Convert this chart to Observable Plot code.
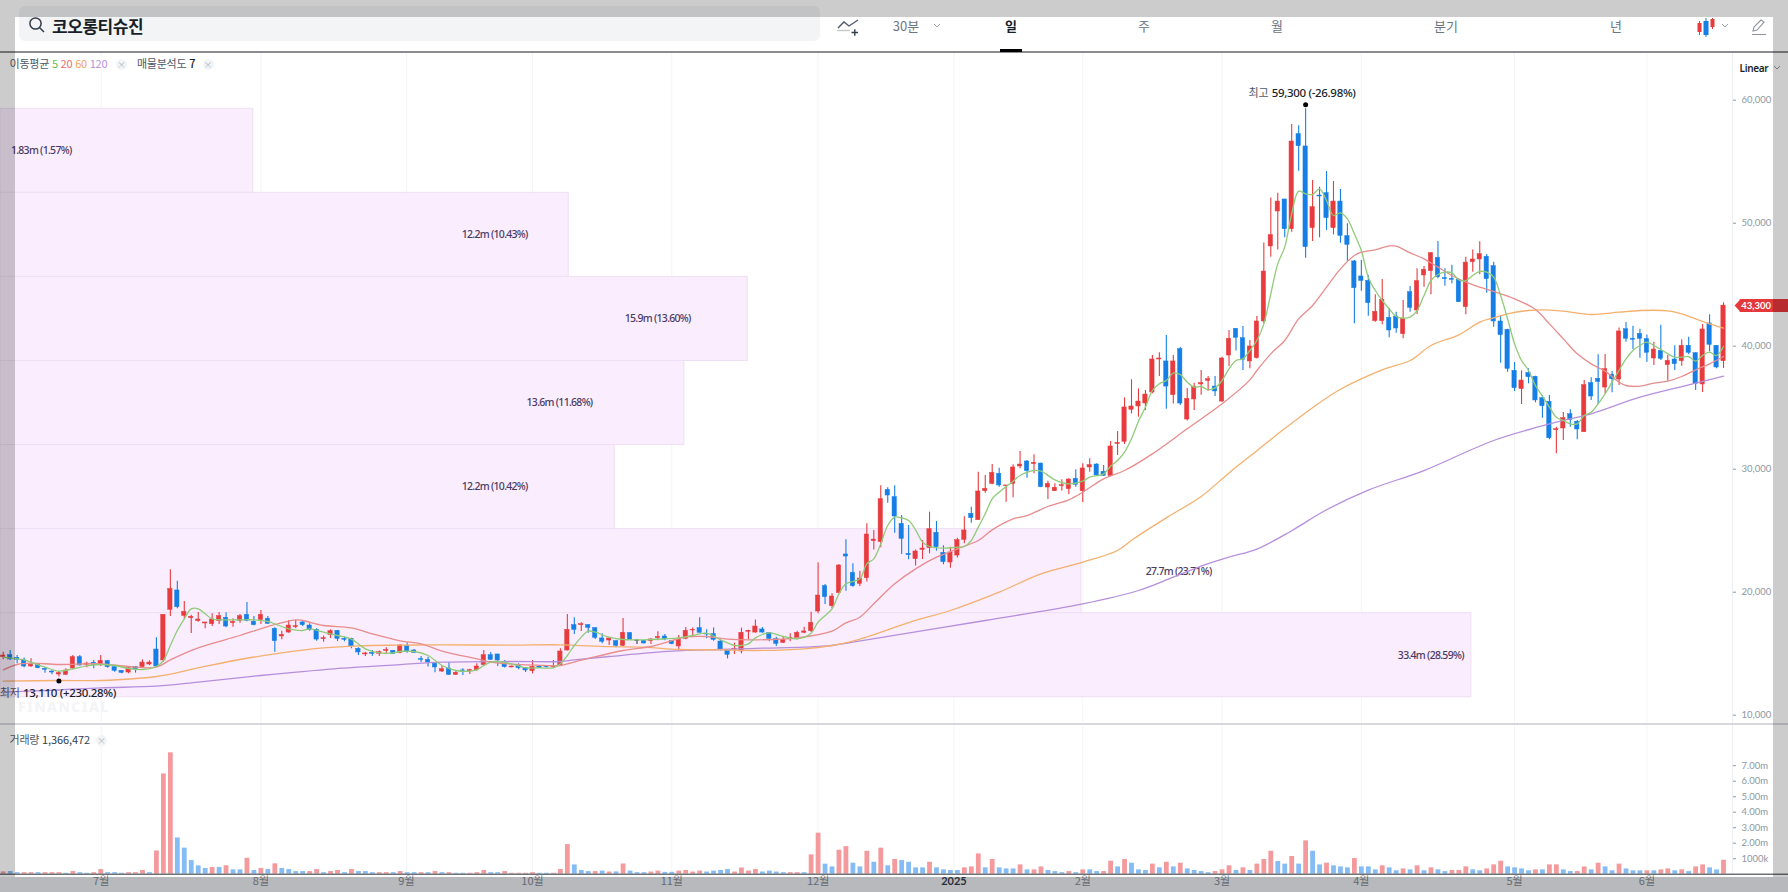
<!DOCTYPE html>
<html lang="ko">
<head>
<meta charset="utf-8">
<script src="https://cdn.jsdelivr.net/npm/d3@7"></script>
<script src="https://cdn.jsdelivr.net/npm/@observablehq/plot@0.6"></script>
<style>
html,body{margin:0;padding:0;background:#fff;}
#page{position:relative;width:1788px;height:892px;overflow:hidden;background:#fff;font-family:"Noto Sans CJK KR","Noto Sans",sans-serif;}
.abs{position:absolute;white-space:nowrap;line-height:1;}
.dim{position:absolute;background:rgba(0,0,0,.2);z-index:20;}
.tab{position:absolute;top:18px;font-size:13px;color:#6b7684;transform:translateX(-50%);line-height:16px;}
.lg{font-size:11px;letter-spacing:-.25px;color:#4e5968;}
.x{position:absolute;width:11px;height:11px;border-radius:50%;background:#f2f4f6;color:#b0b8c1;font-size:9px;line-height:11px;text-align:center;}
</style>
</head>
<body>
<div id="page"></div>
<script>
// [open, high, low, close] per trading day
const ohlc = [
[14720,15120,14500,14850],[14880,15260,14450,14530],[14660,14850,14180,14500],[14450,14660,13850,13960],[13960,14580,13900,14100],[14100,14180,13770,13820],[13770,13850,13420,13690],[13550,13610,13280,13470],[13310,13550,13110,13420],[13280,13770,13230,13630],
[13800,14850,13690,14720],[14720,14850,14010,14040],[14100,14310,13850,14200],[14260,14450,13770,14100],[14100,14850,13960,14420],[14390,14450,13820,13910],[13910,13960,13500,13610],[13610,13630,13360,13440],[13470,13960,13360,13820],[13910,13960,13420,13720],
[13910,14500,13820,14280],[14120,14420,14040,14280],[15340,16290,13910,13960],[14450,18160,14310,18160],[18570,21820,18020,20270],[20140,20900,18650,18780],[18080,19240,17840,18400],[17890,18130,16640,18000],[17650,18350,17560,17780],[17460,17540,17020,17540],
[17400,18240,17210,17780],[17650,18350,17370,18050],[17920,18320,17100,17210],[17480,17840,17160,17590],[17670,18190,17480,18050],[18160,19160,17590,17670],[17590,18020,17270,17320],[17730,18510,17370,18160],[17840,18020,17370,17430],[17020,17100,15120,16020],
[16400,16830,16130,16530],[16720,17700,16670,17290],[17160,17700,17020,17240],[17540,17700,17210,17320],[17290,17430,16830,16940],[16940,17020,16020,16150],[16180,16430,15940,16260],[16510,16940,16240,16830],[16860,16890,15990,16210],[16210,16340,15970,16130],
[16210,16260,15400,15590],[15400,15480,14850,15100],[14940,15120,14770,15020],[15070,15260,14800,14990],[14990,15210,14770,15120],[15230,15480,14990,15310],[15230,15260,14960,14990],[15070,15750,14990,15670],[15610,15880,15040,15180],[15260,15340,15020,15070],
[14560,14770,14290,14500],[14500,14720,13910,14290],[14180,14230,13450,13880],[13550,14010,13470,13740],[13800,14260,13230,13280],[13280,13580,13230,13450],[13640,13770,13230,13580],[13580,13740,13310,13660],[13660,14180,13580,13960],[14070,15260,13960,14880],
[14880,15100,14450,14500],[14940,14940,13960,14450],[14230,14450,13830,13910],[13880,13990,13850,13960],[14040,14180,13690,13830],[13830,13850,13470,13640],[13580,14450,13360,13930],[13960,14010,13800,13850],[13960,14010,13830,13910],[13910,14450,13800,13960],
[14010,15400,13960,15180],[15260,18190,15210,16940],[17320,17920,16560,16940],[17320,17510,16810,17400],[17320,17380,16670,17100],[17080,17080,16160,16290],[16240,16620,15800,15970],[16070,16240,15670,16240],[16020,16050,15480,15640],[15640,17860,15590,16700],
[16670,16720,16070,16130],[16100,16100,15750,16100],[16050,16070,15780,15830],[16020,16210,15750,16160],[16260,16780,16050,16370],[16400,16560,16050,16160],[16050,16070,15720,15780],[15590,16480,15320,16130],[16210,17130,16130,16860],[16890,17080,16400,16940],
[17080,17920,16670,16700],[16620,16940,16210,16560],[16590,17080,16020,16130],[15990,16070,15210,15340],[15260,15320,14580,14910],[15340,15860,14940,15400],[15180,17080,14990,16700],[16780,16910,16130,16860],[16720,17750,16670,17210],[16970,17130,16670,16720],
[16670,16720,15970,16210],[16180,16340,15590,15800],[15890,16340,15830,16130],[16180,16620,15970,16290],[16290,16830,16130,16700],[16700,17160,16620,16810],[16830,18380,16720,17510],[18430,22390,18240,19730],[20490,20630,19000,19600],[18860,19870,18650,19650],
[19920,22250,19870,22170],[23070,24260,20080,22900],[21570,22310,20410,20490],[20680,21710,20460,21110],[21140,25560,20820,24690],[24150,25020,23440,24280],[24070,28650,23610,27560],[28320,28490,27240,27860],[27730,28650,24800,26150],[25560,26240,23070,24340],
[23120,25420,22630,23010],[22690,23440,22120,23310],[23440,24200,22660,23550],[23580,26510,23120,25120],[24830,25750,23340,23660],[23200,23770,22230,22440],[22410,23660,21950,23230],[22980,24390,22790,24230],[24260,26130,23930,25020],[26370,26910,25610,26020],
[25860,29760,25830,28190],[28210,29490,28050,28400],[28810,30380,28730,29700],[29620,30080,28540,28680],[28620,28680,27320,28680],[28810,30360,27670,30140],[30220,31440,30030,30380],[30630,30710,29270,29840],[30410,31170,29620,30520],[30460,30490,28490,28540],
[28510,29030,27540,28810],[28210,28810,28190,28490],[28620,29140,28210,28700],[28380,29220,27920,29160],[29220,29950,28540,28730],[28210,30440,27290,30060],[30140,30840,29760,30330],[30380,30440,29430,29490],[29790,30300,29410,29460],[29430,32250,29380,31850],
[32040,33070,31110,32140],[32230,35800,32010,35020],[34830,37270,34500,35100],[35100,36530,34230,35500],[35340,36400,34770,36070],[36240,39240,36130,38920],[38920,39460,37540,39000],[38760,40870,34880,36720],[36020,39240,35310,38760],[39760,39890,35180,35340],
[34040,36560,33910,35720],[35670,36990,34770,36670],[36890,38020,36020,36990],[37180,37540,36340,37320],[36720,37540,35910,36320],[35500,39110,35450,39000],[39240,41280,38350,40600],[41410,41410,39600,40680],[40650,41600,38020,38890],[38760,40460,38160,39980],
[39030,42410,38950,42010],[42010,48400,41820,46070],[48110,52040,47240,49030],[50950,52440,47830,51760],[51930,51930,48810,49510],[49510,58020,49270,56640],[57240,57920,54230,56260],[56240,59300,47160,48050],[49600,53470,48510,51300],[52250,52930,48810,52170],
[52440,54200,49410,50410],[49600,53390,49050,51760],[51760,52740,48380,48970],[48950,49950,46910,48240],[46890,46970,41820,44720],[45670,46970,44470,45310],[45310,45750,42440,43500],[42040,44180,41950,42790],[42040,45420,41740,43770],[42310,43040,40680,41280],
[42410,42770,41060,41440],[40980,43720,40600,42200],[44390,44850,42770,43120],[42900,46290,42580,45290],[45750,46480,44800,46210],[46100,47620,44180,47560],[47180,48510,45480,45610],[45530,46290,44880,45450],[45480,46590,45070,45400],[45400,45480,43550,43580],
[43170,47240,42550,46800],[46830,47830,46020,47050],[47050,48490,45800,47480],[47270,47460,44310,45450],[46510,46830,41550,42010],[42010,42500,38620,40900],[41330,41380,37890,38160],[38000,38670,36320,36590],[36510,38000,35260,37210],[37830,38160,36940,37480],
[37510,37560,35400,35590],[35780,35990,34150,35120],[35480,35990,32390,32520],[33170,33420,31250,33250],[33310,34610,32330,34150],[34470,34830,33420,33990],[33850,33960,32390,33230],[33010,37210,32980,36830],[36990,37430,35590,35910],[37350,39300,35260,37100],
[36640,39330,36130,38130],[37670,37940,36210,37320],[37290,41470,36810,41200],[41380,41930,40330,40600],[40600,41630,39730,40520],[41010,41380,39030,40600],[40570,40920,38700,39460],[39000,40330,38430,39730],[39620,41710,38840,38970],[38460,39240,37160,38810],
[38920,40030,38020,38540],[38780,40520,38380,40030],[40030,40730,39300,39460],[39430,39460,36400,36910],[36890,41760,36240,41360],[41850,42550,39520,40110],[40030,40060,38160,38270],[38780,43530,38190,43300]
];

// trading volume, millions of shares
const volume = [
.15,.17,.1,.1,.1,.1,.1,.1,.1,.06,.17,.1,.06,.1,.3,.1,.1,.06,.1,.1,.24,.1,1.5,6.47,7.83,2.34,1.68,.88,.54,.37,
.43,.43,.54,.28,.28,1.03,.24,.37,.3,.67,.37,.3,.17,.17,.17,.3,.1,.17,.24,.1,.3,.17,.17,.1,.1,.1,.1,.17,.1,.1,
.1,.1,.17,.1,.1,.06,.06,.06,.1,.24,.1,.1,.17,.06,.06,.06,.1,.06,.06,.06,.3,1.91,.6,.24,.17,.17,.2,.14,.15,.66,
.2,.1,.1,.14,.2,.12,.12,.2,.24,.14,.2,.14,.2,.24,.3,.14,.4,.2,.3,.14,.2,.14,.1,.1,.1,.1,1.25,2.65,.65,.47,
1.55,1.78,.71,.47,1.48,.77,1.68,.54,.95,.88,.77,.41,.41,.77,.41,.28,.24,.24,.41,.47,1.31,.41,.95,.41,.34,.34,.6,.28,.28,.47,
.24,.17,.1,.17,.1,.28,.28,.17,.17,.84,.47,.95,.71,.28,.24,.65,.41,.77,.47,.71,.34,.24,.17,.1,.17,.28,.54,.24,.41,.24,
.65,.95,1.48,.82,.65,1.14,.65,2.15,1.48,.6,.71,.54,.47,.41,1.01,.47,.47,.28,.54,.41,.22,.34,.28,.54,.22,.41,.28,.17,.24,.24,
.47,.28,.22,.34,.6,.84,.47,.41,.34,.22,.28,.28,.6,.6,.28,.17,.17,.47,.28,.71,.47,.22,.65,.34,.22,.22,.22,.22,.28,.34,
.22,.28,.17,.47,.6,.41,.28,.9
];
const volumeDir = "rbbrrbrrrb"+"rbbrrbbbrr"+"rbrrrbbbbb"+"rbrbbrbrbr"+"bbbbrrbrrb"+"rbbbrrbrbb"+"rbrbrbbrrr"+"bbrrrrrbbr"+"rrbbbrbrbr"+"bbbrrbbrrr"
 +"rbbbbrrrrb"+"bbbrrbrrbb"+"rrbbrbrbrb"+"bbbrbbbbrr"+"rbrbbbrbrr"+"bbbrbrbbrr"+"brbbbrbrbr"+"bbbbrrrbrb"+"rrrbbrbrbb"+"rbbbrbbbrb"
 +"brbrbrbbrr"+"rbbrrrbbbb"+"rbrrbbrrbr"+"bbrbbbrbrr"+"brbrrbbr";

// moving averages as [day index, price]
const ma5 = [[0,14720],[2,14580],[3,14500],[4,14310],[6,13905],[8,13580],[10,13770],[12,14013],[14,14122],[16,14041],[18,13797],[20,13715],[22,13959],[23,14447],[24,15667],[25,16886],[26,17835],[27,18648],[28,18648],[29,18241],[30,17835],[32,17753],[34,17753],[36,17753],[38,17618],[39,17428],[41,17022],[43,16886],[44,17022],[46,16751],[48,16480],[50,16182],[52,15396],[54,15070],[56,15070],[57,15180],[59,15180],[61,14855],[63,14042],[65,13635],[67,13581],[68,13689],[69,14042],[70,14313],[71,14367],[73,14177],[75,13852],[77,13852],[79,13852],[80,14177],[81,14855],[82,15668],[83,16345],[84,16833],[85,16752],[87,16345],[89,16155],[92,16128],[95,16210],[97,16291],[99,16480],[101,16670],[103,16128],[105,15668],[106,15668],[107,15803],[108,16291],[110,16697],[112,16399],[114,16210],[116,16670],[117,17565],[119,18648],[120,19867],[121,20680],[123,21087],[124,22306],[125,22712],[126,23932],[127,25423],[128,26100],[129,26046],[130,25829],[131,25070],[132,24068],[133,23715],[135,23580],[137,23661],[138,23715],[139,24203],[140,25287],[141,26371],[142,27590],[143,28130],[145,29027],[146,29488],[148,29894],[149,29840],[151,29135],[153,28810],[155,29027],[156,29352],[158,29623],[159,30246],[160,30707],[161,31385],[162,32469],[163,33905],[164,35043],[165,36398],[166,36940],[167,37211],[168,37807],[169,37699],[170,37076],[171,36669],[172,36723],[173,36452],[174,36615],[175,37211],[176,38160],[177,38837],[178,38973],[179,39650],[180,40463],[181,41818],[182,44257],[183,46696],[184,48051],[185,50761],[186,52604],[187,52387],[188,52333],[189,52793],[190,51845],[191,50625],[192,50842],[193,50355],[194,49135],[195,47780],[196,45612],[197,44528],[198,43715],[199,43037],[200,42414],[201,42278],[202,42360],[203,42902],[204,44121],[205,45341],[206,45829],[207,46018],[208,45964],[209,45395],[210,45341],[211,45748],[212,46073],[213,46018],[214,45612],[215,44122],[216,42225],[217,40192],[218,38837],[219,38024],[220,36805],[221,35937],[222,35043],[223,34230],[224,33959],[225,33688],[226,33688],[227,34365],[228,34637],[229,35314],[230,36127],[231,37075],[232,38024],[233,38973],[234,39650],[235,40057],[236,40328],[237,40057],[238,39731],[239,39379],[240,39108],[241,39108],[242,39162],[243,38783],[244,39243],[245,39515],[246,39243],[247,39975]];
const ma20 = [[0,13688],[2,14122],[4,14230],[8,14122],[14,14176],[18,13959],[22,13905],[24,14501],[28,15477],[34,16480],[38,17211],[42,17753],[43,17699],[46,17293],[50,17103],[53,16615],[57,16050],[60,15803],[63,15207],[68,14584],[70,14313],[75,14096],[80,14042],[81,14177],[84,14611],[89,15261],[93,15586],[98,16345],[101,16399],[104,16182],[108,16128],[114,16291],[119,16833],[121,17500],[123,17970],[125,19054],[128,20680],[131,21900],[134,22848],[137,23525],[140,24203],[142,25070],[145,25965],[147,26235],[150,26967],[153,27509],[155,28130],[158,29217],[161,29894],[165,31249],[170,33282],[175,35314],[179,37265],[180,38024],[182,39379],[184,40463],[186,42224],[188,43309],[190,44799],[192,46289],[194,47374],[195,47644],[197,47834],[199,48160],[200,48132],[202,47590],[204,47103],[206,46425],[208,45748],[210,45205],[212,44799],[215,44257],[217,43850],[220,42983],[222,41818],[224,40598],[226,39379],[228,38566],[230,37970],[232,37075],[233,36805],[235,36750],[237,36994],[239,37157],[241,37536],[243,38078],[245,38566],[247,39162]];
const ma60 = [[0,12767],[8,12821],[14,12821],[22,13146],[28,13851],[34,14528],[40,15070],[46,15477],[51,15640],[57,15694],[63,15722],[73,15695],[80,15722],[87,15570],[92,15532],[97,15342],[103,15315],[108,15261],[115,15397],[119,15668],[122,16020],[131,17700],[136,18512],[143,20002],[149,21493],[155,22441],[160,23390],[162.3,24339],[167,26046],[172,27780],[176,29700],[180,31500],[184,33300],[188,35000],[192,36500],[198,38078],[202,38837],[205,40057],[209,40924],[212,41954],[214,42306],[216,42631],[219,42902],[221,42956],[224,42848],[228,42577],[232,42767],[235,42902],[239,42875],[241,42631],[243,42225],[245,41818],[247,41466]];
const ma120 = [[0,11880],[8,12050],[14,12225],[22,12360],[28,12685],[37,13228],[47.5,13770],[57,14110],[63,14313],[73,14367],[80,14367],[82,14502],[87,14773],[96,15207],[103,15342],[109,15451],[115,15532],[119,15668],[122,15939],[141,17699],[155,19054],[163,20138],[168,21222],[172.4,22200],[176,22850],[180,23500],[185,25000],[190,26700],[196,28300],[204,29890],[214,32333],[223,33823],[228,34501],[235,35856],[242,36859],[247,37563]];

// volume profile bands
const profileEdges = [59300,52466,45632,38798,31964,25130,18296,11462];
const profileReach = [35.9,81.2,106.9,97.8,87.8,154.8,210.8];
const profileText  = ["1.83m (1.57%)","12.2m (10.43%)","15.9m (13.60%)","13.6m (11.68%)","12.2m (10.42%)","27.7m (23.71%)","33.4m (28.59%)"];
const profileLabelEnd = [9.8,75.3,98.7,84.6,75.3,173.5,209.7];

// axes
const monthTicks = [14.07,37,57.9,76,96,117,155,175,195,217,236];
const monthText  = ["7월","8월","9월","10월","11월","12월","2월","3월","4월","5월","6월"];
const yearTick = [136.5];
const priceTicks = [10000,20000,30000,40000,50000,60000];
const volumeTicks = [1,2,3,4,5,6,7];
const high = {i:187, v:59300, word:"최고", num:"59,300 (-26.98%)"};
const low  = {i:8,   v:13110, word:"최저", num:"13,110 (+230.28%)"};
const lastPrice = 43300;

const RED="#e83b3e", BLUE="#157fe6", GRID="#f3f4f6", AXIS="#8e97a3";
const candles = ohlc.map(([o,h,l,c],i)=>({i,o,h,l,c}));
const color = d => d.c===d.o ? "#333d4b" : d.c>d.o ? RED : BLUE;
const X_DOMAIN=[-0.388,248.29], WIDTH=1788, RIGHT=56;
const line = (arr,stroke)=>Plot.line(arr,{x:d=>d[0],y:d=>d[1],stroke,strokeWidth:1.3,curve:"catmull-rom"});
const bands = profileReach.map((r,k)=>({r,top:profileEdges[k],bot:profileEdges[k+1],t:profileText[k],e:profileLabelEnd[k]}));
const allTicks=[...monthTicks,...yearTick];
const baseStyle={background:"transparent",fontFamily:"Lato, Roboto, sans-serif",fontSize:"9.5px",overflow:"visible"};
const tagPointer={draw(c){c.moveTo(-6,0);c.lineTo(0,-6.4);c.lineTo(0,6.4);c.closePath();}};

const page=document.getElementById("page");

// main price pane
const main = Plot.plot({
  width:WIDTH,height:672,marginLeft:0,marginRight:RIGHT,marginTop:0,marginBottom:0,
  style:baseStyle,
  x:{type:"linear",domain:X_DOMAIN,axis:null},
  y:{type:"linear",domain:[9244,63878],axis:null},
  marks:[
    Plot.ruleX(allTicks,{stroke:GRID,strokeWidth:1}),
    Plot.ruleX([X_DOMAIN[1]],{stroke:"#eceef1",strokeWidth:1}),
    Plot.rect(bands,{x1:X_DOMAIN[0],x2:"r",y1:"top",y2:"bot",fill:"#faedfe",stroke:"#efdff4",strokeWidth:1}),
    Plot.text(bands,{x:"e",y:d=>(d.top+d.bot)/2,text:"t",textAnchor:"end",fontSize:10.5,fontWeight:500,fill:"#4a3a63",fontFamily:"Noto Sans"}),
    Plot.ruleX(candles,{x:"i",y1:"l",y2:"h",stroke:color,strokeWidth:1.1}),
    Plot.rect(candles.filter(d=>d.o!==d.c),{x1:d=>d.i-.31,x2:d=>d.i+.31,y1:"o",y2:"c",fill:color,stroke:color,strokeWidth:.5}),
    Plot.ruleY(candles.filter(d=>d.o===d.c),{x1:d=>d.i-.31,x2:d=>d.i+.31,y:"c",stroke:color,strokeWidth:1.2}),
    line(ma120,"#b68fdc"),
    line(ma60,"#f4b06e"),
    line(ma20,"#e88c8c"),
    line(ma5,"#8fcb78"),
    Plot.axisY({anchor:"right",ticks:priceTicks,tickFormat:d3.format(","),tickSize:3,tickPadding:6,color:AXIS,label:null,fontSize:9.5}),
    Plot.dot([high],{x:"i",y:"v",r:2.5,fill:"#000",dy:-4}),
    Plot.dot([low],{x:"i",y:"v",r:2.5,fill:"#000",dy:4}),
    Plot.text([high],{x:"i",y:"v",text:"word",textAnchor:"end",dx:-37,dy:-15,fontSize:11,fill:"#4e5968",fontFamily:"Noto Sans CJK KR"}),
    Plot.text([high],{x:"i",y:"v",text:"num",textAnchor:"start",dx:-34,dy:-15,fontSize:11.5,fontWeight:500,fill:"#191f28",fontFamily:"Noto Sans"}),
    Plot.text([low],{x:"i",y:"v",text:"word",textAnchor:"end",dx:-39,dy:16.5,fontSize:11,fill:"#4e5968",fontFamily:"Noto Sans CJK KR"}),
    Plot.text([low],{x:"i",y:"v",text:"num",textAnchor:"start",dx:-36,dy:16.5,fontSize:11.5,fontWeight:500,fill:"#191f28",fontFamily:"Noto Sans"}),
    Plot.ruleY([lastPrice],{x1:249.4,x2:257,stroke:"#e5383b",strokeWidth:13}),
    Plot.dot([lastPrice],{x:249.45,y:d=>d,symbol:tagPointer,r:6,fill:"#e5383b"}),
    Plot.text([lastPrice],{x:249.55,y:d=>d,text:d3.format(","),textAnchor:"start",fill:"#fff",fontSize:9.5,fontWeight:700})
  ]
});
main.style.position="absolute";main.style.top="52px";main.style.left="0";
page.appendChild(main);
main.querySelectorAll("text").forEach(t=>{
  const s=t.textContent;
  if(profileText.includes(s)) t.style.letterSpacing="-.72px";
  else if(s===high.num||s===low.num) t.style.letterSpacing="-.32px";
});

// volume pane
const vols = volume.map((v,i)=>({i,v,d:volumeDir[i]}));
const sub = Plot.plot({
  width:WIDTH,height:168,marginLeft:0,marginRight:RIGHT,marginTop:0,marginBottom:18.3,
  style:baseStyle,
  x:{type:"linear",domain:X_DOMAIN,axis:null},
  y:{type:"linear",domain:[0,9.658],axis:null},
  marks:[
    Plot.ruleX(allTicks,{stroke:GRID,strokeWidth:1}),
    Plot.ruleX([X_DOMAIN[1]],{stroke:"#eceef1",strokeWidth:1}),
    Plot.ruleX(vols,{x:"i",y1:0,y2:"v",stroke:d=>d.d==="r"?"#f49a9d":"#86bcf6",strokeWidth:4.8}),
    Plot.ruleY([0],{x1:X_DOMAIN[0],x2:257,stroke:"#6f7276",strokeWidth:1.6}),
    Plot.axisY({anchor:"right",ticks:volumeTicks,tickFormat:d=>d===1?"1000k":d.toFixed(2)+"m",tickSize:3,tickPadding:6,color:AXIS,label:null,fontSize:9.5}),
    Plot.axisX({ticks:monthTicks,tickFormat:(d,k)=>monthText[k],tickSize:0,tickPadding:3,color:"#7d8590",label:null,fontSize:11,fontFamily:"Noto Sans CJK KR"}),
    Plot.axisX({ticks:yearTick,tickFormat:()=>"2025",tickSize:0,tickPadding:3,color:"#333d4b",label:null,fontSize:11,fontWeight:700,fontFamily:"Lato"})
  ]
});
sub.style.position="absolute";sub.style.top="724px";sub.style.left="0";
page.appendChild(sub);

// page furniture
page.insertAdjacentHTML("afterbegin",`<div style="position:absolute;left:0;top:876.7px;width:1788px;height:15.3px;background:#e5e8eb"></div>`);
page.insertAdjacentHTML("beforeend",`
<div class="abs" style="left:0;top:51px;width:1788px;height:1.5px;background:#8a8c8f;z-index:5"></div>
<div class="abs" style="left:0;top:723.3px;width:1788px;height:1.4px;background:#d6d8de;z-index:5"></div>
<div class="abs" style="left:19px;top:6px;width:801px;height:35px;background:#f2f4f6;border-radius:6px"></div>
<svg style="position:absolute;left:28px;top:16px" width="18" height="18" viewBox="0 0 18 18" fill="none" stroke="#333d4b" stroke-width="1.5"><circle cx="7.5" cy="7.5" r="5.6"/><path d="M11.7 11.7L16 16"/></svg>
<div class="abs" style="left:52px;top:16.5px;font-size:17px;font-weight:700;color:#191f28;letter-spacing:-.45px">코오롱티슈진</div>
<svg style="position:absolute;left:837px;top:17px" width="23" height="19" viewBox="0 0 23 19" fill="none" stroke="#4e5968" stroke-width="1.4"><path d="M1 11L7 5L12 9L21 3"/><path d="M0 13.5H13" stroke="#c5c8cd"/><path d="M14.5 15.5H21M17.8 12.2V18.8" stroke="#333d4b"/></svg>
<div class="tab" style="left:906px">30분</div>
<svg style="position:absolute;left:933px;top:23px" width="8" height="6" fill="none" stroke="#9aa1aa"><path d="M1 1L4 4L7 1"/></svg>
<div class="tab" style="left:1011px;color:#191f28;font-weight:700">일</div>
<div class="abs" style="left:1000px;top:49px;width:22px;height:3px;background:#000;z-index:6"></div>
<div class="tab" style="left:1144px">주</div>
<div class="tab" style="left:1277px">월</div>
<div class="tab" style="left:1446px">분기</div>
<div class="tab" style="left:1616px">년</div>
<svg style="position:absolute;left:1696px;top:16px" width="20" height="22"><path d="M3.5 5V19" stroke="${RED}"/><rect x="1.5" y="7" width="4" height="9" fill="${RED}"/><path d="M10 2V21" stroke="${BLUE}"/><rect x="7.5" y="5" width="5" height="14" fill="${BLUE}"/><path d="M16.5 2V13" stroke="${RED}"/><rect x="14.5" y="3" width="4" height="8" fill="${RED}"/></svg>
<svg style="position:absolute;left:1721px;top:23px" width="8" height="6" fill="none" stroke="#9aa1aa"><path d="M1 1L4 4L7 1"/></svg>
<svg style="position:absolute;left:1751px;top:18px" width="16" height="18" fill="none" stroke="#8e97a3" stroke-width="1.1"><path d="M2 13L3 9L10 2L13 4L6 12Z"/><path d="M1 16.5H15"/></svg>
<div class="abs" style="left:1739.5px;top:62.5px;font-size:10px;font-weight:600;color:#191f28;font-family:'Noto Sans';letter-spacing:-.3px">Linear</div>
<svg style="position:absolute;left:1773px;top:65px" width="8" height="6" fill="none" stroke="#8e97a3"><path d="M1 1L4 4L7 1"/></svg>
<div class="abs lg" style="left:9.6px;top:58px;background:#fff;padding-right:2px">이동평균 <span style="color:#6cc04a">5</span> <span style="color:#ef6a6a">20</span> <span style="color:#f2a35e">60</span> <span style="color:#b48fdb">120</span></div>
<div class="x" style="left:116px;top:58.5px">×</div>
<div class="abs lg" style="left:137px;top:58px;background:#fff">매물분석도 <span style="color:#191f28;font-weight:500">7</span></div>
<div class="x" style="left:202.5px;top:58.5px">×</div>
<div class="abs lg" style="left:9.6px;top:734px;background:#fff">거래량 <span style="letter-spacing:-.1px;color:#333d4b">1,366,472</span></div>
<div class="x" style="left:96px;top:734.5px">×</div>
<div class="abs" style="left:18px;top:700px;font-size:14px;font-weight:800;letter-spacing:1.4px;color:#f3f4f6;font-family:'Noto Sans'">FINANCIAL</div>
<div class="dim" style="left:0;top:0;width:1788px;height:17px"></div>
<div class="dim" style="left:0;top:17px;width:15px;height:859.7px"></div>
<div class="dim" style="left:1773px;top:17px;width:15px;height:859.7px"></div>
<div class="dim" style="left:0;top:876.7px;width:1788px;height:15.3px"></div>
`);
</script>
</body>
</html>
